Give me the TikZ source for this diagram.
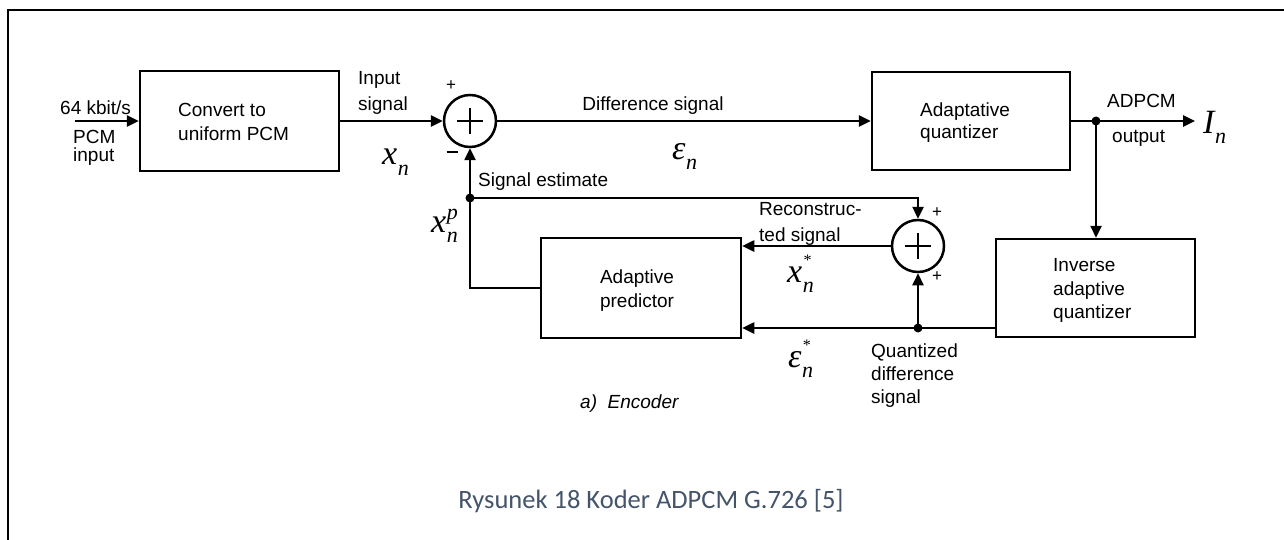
\documentclass[tikz,border=0pt]{standalone}
\usepackage{fontspec}
\setmainfont{Liberation Sans}
\newfontfamily\tms{Liberation Serif}
\newfontfamily\capfont{Carlito}
\usetikzlibrary{arrows.meta,calc}
\definecolor{capcol}{HTML}{44546A}
\newcommand\mvar[4]{{\tms\itshape\fontsize{34}{34}\selectfont #1}\kern0.5pt\rlap{\raisebox{#4}{\tms\itshape\fontsize{#3}{#3}\selectfont #2}}\raisebox{-10pt}{\tms\itshape\fontsize{22}{22}\selectfont n}}
\tikzset{
  blk/.style={draw, line width=2.5pt, rectangle, inner sep=0pt},
  summer/.style={draw, line width=2.5pt, circle, minimum size=52pt, inner sep=0pt},
  conn/.style={line width=2.5pt, -{Triangle[length=12pt,width=11pt]}},
  lbl/.style={font=\fontsize{19}{22}\selectfont, inner sep=0pt, anchor=base west},
  clbl/.style={font=\fontsize{19}{22}\selectfont, inner sep=0pt, anchor=base},
  sgn/.style={font=\fontsize{17}{17}\selectfont, inner sep=0pt},
  mth/.style={inner sep=0pt, anchor=base west},
  dot/.style={circle, fill, inner sep=0pt, minimum size=9pt}
}
\begin{document}
\begin{tikzpicture}[x=1pt,y=-1pt]
\useasboundingbox (0,0) rectangle (1284,540);
% frame
\draw[line width=2pt] (8,540) -- (8,10) -- (1284,10);

% blocks
\node[blk, minimum width=199pt, minimum height=100pt] (conv) at (239.5,121) {};
\node[blk, minimum width=198pt, minimum height=98pt] (quant) at (971,121) {};
\node[blk, minimum width=199pt, minimum height=98pt] (inv) at (1095.5,288) {};
\node[blk, minimum width=200pt, minimum height=100pt] (pred) at (641,288) {};
\node[summer] (s1) at (470,121) {};
\node[summer] (s2) at (918,246) {};
\draw[line width=1.8pt] ($(s1)+(-13,0)$) -- ($(s1)+(13,0)$) ($(s1)+(0,-13)$) -- ($(s1)+(0,13)$);
\draw[line width=1.8pt] ($(s2)+(-13,0)$) -- ($(s2)+(13,0)$) ($(s2)+(0,-13)$) -- ($(s2)+(0,13)$);

% junctions
\coordinate (in) at (75,121);
\coordinate (out) at (1195,121);
\node[dot] (j1) at (1096,121) {};
\node[dot] (j2) at (470,198) {};
\node[dot] (j3) at (918,328) {};

% connectors
\draw[conn] (in) -- (conv.west);
\draw[conn] (conv.east) -- (s1.west);
\draw[conn] (s1.east) -- (quant.west);
\draw[conn] (quant.east) -- (out);
\draw[conn] (j1.center) -- (j1.center |- inv.north);
\draw[conn] (inv.west |- j3.center) -- (pred.east |- j3.center);
\draw[conn, line width=2pt] (j3.center) -- (s2.south);
\draw[conn] (s2.west) -- (s2.west -| pred.east);
\draw[conn] (pred.west) -| (s1.south);
\draw[conn] (j2.center) -| (s2.north);

% labels
\node[lbl] (t64) at (60,115) {64 kbit/s};
\node[lbl] (tpcm) at (73,144) {PCM};
\node[lbl] (tinp) at (73,162) {input};
\node[lbl] (tin1) at (358,85) {Input};
\node[lbl] (tin2) at (358,111) {signal};
\node[lbl] (tc1) at (178,117) {Convert to};
\node[lbl] (tc2) at (178,141) {uniform PCM};
\node[clbl] (tdiff) at (653,111) {Difference signal};
\node[lbl] (tq1) at (920,117) {Adaptative};
\node[lbl] (tq2) at (920,139) {quantizer};
\node[lbl] (to1) at (1107,108) {ADPCM};
\node[lbl] (to2) at (1112,143) {output};
\node[lbl] (tse) at (478,186) {Signal estimate};
\node[lbl] (tr1) at (759,215) {Reconstruc-};
\node[lbl] (tr2) at (759,241) {ted signal};
\node[clbl] (tp1) at (637,283) {Adaptive};
\node[clbl] (tp2) at (637,307) {predictor};
\node[lbl] (ti1) at (1053,271) {Inverse};
\node[lbl] (ti2) at (1053,295) {adaptive};
\node[lbl] (ti3) at (1053,318) {quantizer};
\node[lbl] (tqd1) at (871,357) {Quantized};
\node[lbl] (tqd2) at (871,380) {difference};
\node[lbl] (tqd3) at (871,403) {signal};
\node[lbl, font=\fontsize{19}{22}\selectfont\itshape] (tenc) at (580,408) {a)\ \ Encoder};

% signs
\node[sgn] (p1) at (451,86) {+};
\node[sgn] (m1) at (452,152) {\rule{11pt}{1.5pt}};
\node[sgn] (p2) at (937,213) {+};
\node[sgn] (p3) at (937,277) {+};

% math labels
\node[mth] (xn) at (382,165) {\mvar{x}{}{1}{0pt}};
\node[mth] (en) at (672,160) {\mvar{ε}{}{1}{0pt}};
\node[mth] (In) at (1203,134) {\mvar{I}{}{1}{0pt}};
\node[mth] (xp) at (431,232) {\mvar{x}{p}{22}{13pt}};
\node[mth] (xs) at (787,282) {\mvar{x}{*}{16}{17pt}};
\node[mth] (es) at (788,367) {\mvar{ε}{*}{16}{17pt}};

% caption
\node[inner sep=0pt, anchor=base, text=capcol, font=\capfont\fontsize{26.5}{30}\selectfont] (cap) at (651,508) {Rysunek 18 Koder ADPCM G.726 [5]};
\end{tikzpicture}
\end{document}
